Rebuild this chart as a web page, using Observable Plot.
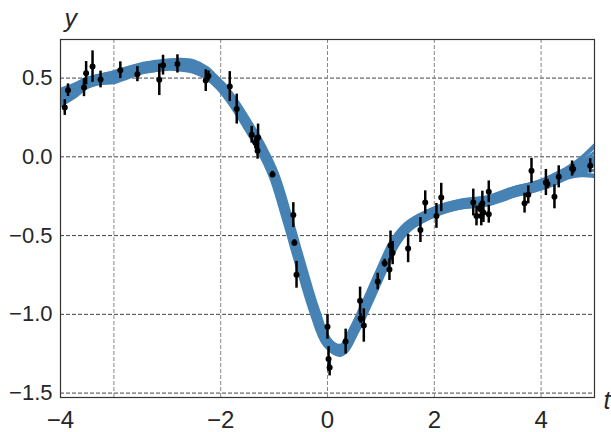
<!DOCTYPE html>
<html>
<head>
<meta charset="utf-8">
<script src="https://cdn.jsdelivr.net/npm/d3@7"></script>
<script src="https://cdn.jsdelivr.net/npm/@observablehq/plot@0.6"></script>
<style>
  html, body { margin: 0; padding: 0; background: #fff; }
  #chart svg { display: block; }
</style>
</head>
<body>
<div id="chart"></div>
<script>
// Curve grid (t) and posterior sample curves
const curveT = [-5,-4.75,-4.5,-4.25,-4,-3.75,-3.5,-3.25,-3,-2.75,-2.5,-2.25,-2,-1.75,-1.5,-1.25,-1,-0.75,-0.5,-0.25,0,0.25,0.5,0.75,1,1.25,1.5,1.75,2,2.25,2.5,2.75,3,3.25,3.5,3.75,4,4.25,4.5,4.75,5];
const curveMid = [0.377,0.42,0.47,0.495,0.515,0.54,0.56,0.575,0.585,0.585,0.57,0.525,0.45,0.34,0.205,0.06,-0.12,-0.395,-0.69,-0.97,-1.18,-1.23,-1.10,-0.92,-0.73,-0.55,-0.445,-0.39,-0.35,-0.32,-0.30,-0.29,-0.28,-0.25,-0.22,-0.20,-0.175,-0.14,-0.10,-0.065,-0.025];
const curveUpper = [0.425,0.455,0.495,0.515,0.535,0.56,0.585,0.60,0.61,0.615,0.605,0.56,0.47,0.365,0.23,0.085,-0.095,-0.37,-0.665,-0.945,-1.155,-1.20,-1.08,-0.895,-0.705,-0.53,-0.425,-0.37,-0.33,-0.30,-0.28,-0.27,-0.26,-0.23,-0.20,-0.18,-0.155,-0.115,-0.07,-0.01,0.07];
const curveLower = [0.33,0.38,0.445,0.47,0.475,0.505,0.535,0.55,0.56,0.555,0.54,0.50,0.43,0.315,0.18,0.035,-0.145,-0.42,-0.715,-0.995,-1.205,-1.255,-1.125,-0.945,-0.755,-0.575,-0.465,-0.41,-0.37,-0.34,-0.32,-0.31,-0.30,-0.275,-0.245,-0.225,-0.20,-0.17,-0.13,-0.115,-0.12];
const curveAltA = [0.40,0.445,0.47,0.495,0.515,0.54,0.56,0.575,0.585,0.585,0.57,0.525,0.45,0.34,0.205,0.06,-0.12,-0.395,-0.69,-0.97,-1.18,-1.23,-1.10,-0.92,-0.73,-0.55,-0.445,-0.39,-0.35,-0.32,-0.30,-0.29,-0.28,-0.25,-0.22,-0.20,-0.175,-0.125,-0.08,-0.035,0.03];
const curveAltB = [0.35,0.40,0.47,0.495,0.515,0.54,0.56,0.575,0.585,0.585,0.57,0.525,0.45,0.34,0.205,0.06,-0.12,-0.395,-0.69,-0.97,-1.18,-1.23,-1.10,-0.92,-0.73,-0.55,-0.445,-0.39,-0.35,-0.32,-0.30,-0.29,-0.28,-0.25,-0.22,-0.20,-0.175,-0.16,-0.125,-0.10,-0.085];

// Observations with error bars
const ptT = [-4.92,-4.86,-4.56,-4.52,-4.40,-4.25,-3.88,-3.56,-3.15,-3.08,-2.81,-2.28,-2.23,-1.83,-1.70,-1.42,-1.35,-1.30,-1.31,-1.03,-0.64,-0.62,-0.58,0.00,0.02,0.04,0.34,0.61,0.62,0.68,0.94,1.07,1.16,1.18,1.22,1.51,1.74,1.83,2.04,2.13,2.73,2.79,2.85,2.90,2.88,2.92,3.02,3.02,3.69,3.76,3.82,4.09,4.12,4.25,4.33,4.58,4.60,4.92];
const ptY = [0.313,0.423,0.440,0.531,0.573,0.491,0.550,0.525,0.489,0.582,0.590,0.484,0.514,0.446,0.303,0.140,0.091,0.123,0.038,-0.112,-0.370,-0.546,-0.749,-1.079,-1.284,-1.338,-1.173,-0.914,-1.027,-1.071,-0.792,-0.675,-0.716,-0.563,-0.611,-0.582,-0.465,-0.290,-0.375,-0.258,-0.290,-0.375,-0.326,-0.294,-0.375,-0.354,-0.222,-0.364,-0.294,-0.241,-0.089,-0.163,-0.173,-0.254,-0.127,-0.074,-0.078,-0.057];
const ptErr = [0.05,0.04,0.058,0.074,0.10,0.053,0.053,0.048,0.10,0.063,0.058,0.069,0.032,0.095,0.095,0.053,0.042,0.085,0.053,0.02,0.079,0.02,0.085,0.079,0.079,0.053,0.079,0.087,0.03,0.106,0.053,0.025,0.069,0.092,0.074,0.09,0.079,0.074,0.079,0.09,0.085,0.063,0.03,0.076,0.063,0.063,0.069,0.057,0.063,0.057,0.079,0.083,0.03,0.076,0.07,0.048,0.03,0.045];

// Axes
const xGrid = [-4,-2,0,2,4];
const xTickPos = [-5,-2,0,2,4];
const xTickLabels = ["\u22124","\u22122","0","2","4"];
const yTicks = [0.5,0,-0.5,-1,-1.5];
const yTickLabels = ["0.5","0.0","\u22120.5","\u22121.0","\u22121.5"];

const curveRows = curveT.map((t, i) => ({t, mid: curveMid[i], up: curveUpper[i], lo: curveLower[i], a: curveAltA[i], b: curveAltB[i]}));
const points = ptT.map((t, i) => ({t, y: ptY[i], y1: ptY[i] - ptErr[i], y2: ptY[i] + ptErr[i]}));

const blue = "#4682b4";
const chart = Plot.plot({
  width: 611,
  height: 432,
  marginLeft: 60,
  marginRight: 17,
  marginTop: 39,
  marginBottom: 35,
  x: {domain: [-5, 5]},
  y: {domain: [-1.528, 0.745]},
  style: {fontFamily: "'Liberation Sans', Arial, sans-serif", fontSize: "22px", color: "#262626", background: "#fff"},
  marks: [
    Plot.ruleY(yTicks, {stroke: "#444", strokeDasharray: "4,2", strokeWidth: 1}),
    Plot.ruleX(xGrid, {stroke: "#888", strokeDasharray: "4,2", strokeWidth: 1}),
    Plot.line(curveRows, {x: "t", y: "mid", stroke: blue, strokeWidth: 11, curve: "catmull-rom", clip: true}),
    Plot.line(curveRows, {x: "t", y: "up", stroke: blue, strokeWidth: 4.5, curve: "catmull-rom", clip: true}),
    Plot.line(curveRows, {x: "t", y: "lo", stroke: blue, strokeWidth: 4.5, curve: "catmull-rom", clip: true}),
    Plot.line(curveRows, {x: "t", y: "a", stroke: blue, strokeWidth: 3, curve: "catmull-rom", clip: true}),
    Plot.line(curveRows, {x: "t", y: "b", stroke: blue, strokeWidth: 3, curve: "catmull-rom", clip: true}),
    Plot.ruleX(points, {x: "t", y1: "y1", y2: "y2", stroke: "#000", strokeWidth: 2.5}),
    Plot.dot(points, {x: "t", y: "y", r: 3, fill: "#000"}),
    Plot.frame({stroke: "#333", strokeWidth: 1.2}),
    Plot.axisX({ticks: xTickPos, tickFormat: (d, i) => xTickLabels[i], tickSize: 0, tickPadding: 13, fontSize: 24, label: null}),
    Plot.axisY({ticks: yTicks, tickFormat: (d, i) => yTickLabels[i], tickSize: 0, tickPadding: 8, fontSize: 22, label: null}),
    Plot.text(["y"], {frameAnchor: "top-left", text: d => d, dx: 4, dy: -21, textAnchor: "start", lineAnchor: "middle", fontStyle: "italic", fontSize: 25, fill: "#262626"}),
    Plot.text(["t"], {frameAnchor: "bottom-right", text: d => d, dx: 9, dy: 3, textAnchor: "start", lineAnchor: "middle", fontStyle: "italic", fontSize: 25, fill: "#262626"})
  ]
});
document.getElementById("chart").appendChild(chart);
</script>
</body>
</html>
